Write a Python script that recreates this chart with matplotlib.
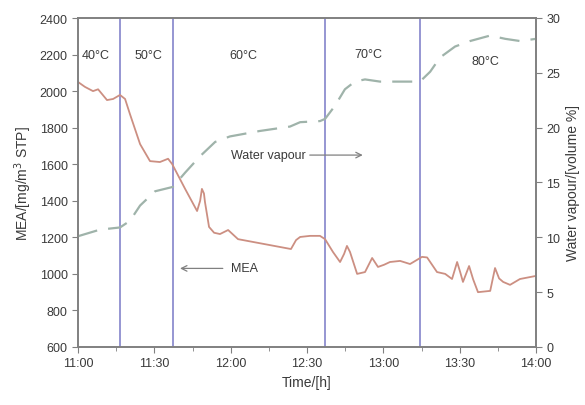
import numpy as np
import matplotlib
matplotlib.use('Agg')
import matplotlib.pyplot as plt
from matplotlib.ticker import MultipleLocator

plt.rcParams['font.family'] = ['Liberation Sans', 'DejaVu Sans']

# minutes after 11:00
mea_t = [0, 2.75, 5.9, 7.9, 11.4, 13.8, 16.5, 18.5, 20.4, 24.4, 28.3, 32.2, 35.4, 37.0,
         42.1, 46.8, 48.0, 48.7, 49.5, 49.9, 51.5, 53.5, 55.8, 59.0, 62.9, 83.7, 85.7,
         87.3, 91.2, 95.1, 97.1, 100.2, 103.0, 104.6, 105.7, 106.9, 109.7, 112.8, 115.6,
         117.9, 120.3, 122.6, 126.6, 130.5, 135.2, 137.2, 141.1, 144.3, 147.0, 149.0,
         150.2, 151.3, 153.7, 155.3, 157.2, 162.0, 163.9, 165.5, 167.1, 169.8, 173.7, 180]
mea = [2050, 2023, 2000, 2010, 1951, 1957, 1979, 1957, 1875, 1710, 1617, 1612, 1630, 1601,
       1465, 1344, 1400, 1465, 1440, 1393, 1257, 1225, 1218, 1240, 1190, 1136, 1185,
       1202, 1208, 1208, 1190, 1120, 1065, 1110, 1153, 1120, 1000, 1010, 1087,
       1038, 1050, 1065, 1071, 1054, 1093, 1090, 1010, 1000, 972, 1065,
       1010, 956, 1043, 970, 900, 907, 1032, 975, 956, 940, 972, 989]

vap_t = [0, 8.6, 16.5, 20.4, 24.4, 30.3, 37.3, 42.1, 48, 53.9, 59.7, 71.5, 83.3, 87.3,
         95.1, 97.1, 101, 104.9, 108.8, 112.8, 118.7, 126.6, 134.4, 138.4, 142.3, 148.2,
         154.1, 162, 167.9, 173.7, 180]
vapour = [10.1, 10.7, 10.9, 11.5, 12.9, 14.2, 14.6, 15.9, 17.4, 18.7, 19.2, 19.7, 20.1, 20.5,
          20.6, 20.8, 22.0, 23.5, 24.2, 24.4, 24.2, 24.2, 24.2, 25.1, 26.4, 27.4,
          27.9, 28.4, 28.1, 27.9, 28.1]

step_t = [16.5, 37.3, 97.1, 134.4]
temp_labels = ['40°C', '50°C', '60°C', '70°C', '80°C']
temp_pos = [(6.8, 2195), (27.5, 2195), (65, 2195), (114, 2205), (160, 2165)]
tick_labels = ['11:00', '11:30', '12:00', '12:30', '13:00', '13:30', '14:00']

fig = plt.figure(figsize=(5.85, 4.06), dpi=100)
ax = fig.add_axes([78/585, 1-348/406, 458/585, 329/406])
ax2 = ax.twinx()

grey = '#808080'
txt = '#3a3a3a'
for a in (ax, ax2):
    for s in a.spines.values():
        s.set_color(grey)
        s.set_linewidth(1.2)
    a.tick_params(colors=grey, labelcolor=txt, labelsize=9, direction='out', length=4)

for t in step_t:
    ax.axvline(t, color='#8e8ecf', lw=1.3)

ax.plot(mea_t, mea, color='#cc8f82', lw=1.3)
ax2.plot(vap_t, vapour, color='#9fb3aa', lw=1.6, dashes=(9, 5))

ax.set_xlim(0, 180)
ax.set_ylim(600, 2400)
ax2.set_ylim(0, 30)
ax.set_xticks(np.arange(0, 181, 30))
ax.set_xticklabels(tick_labels)
ax.xaxis.set_minor_locator(MultipleLocator(15))
ax.tick_params(axis='x', which='minor', direction='out', length=3, colors=grey)
ax.yaxis.set_major_locator(MultipleLocator(200))
ax2.yaxis.set_major_locator(MultipleLocator(5))

for lab, (x, y) in zip(temp_labels, temp_pos):
    ax.text(x, y, lab, fontsize=9, color=txt, ha='center', va='center')

ax.text(60, 1650, 'Water vapour', fontsize=9, color=txt, va='center')
ax.annotate('', xy=(113, 1650), xytext=(90, 1650),
            arrowprops=dict(arrowstyle='->', color=grey, lw=0.9))
ax.text(60, 1030, 'MEA', fontsize=9, color=txt, va='center')
ax.annotate('', xy=(39, 1030), xytext=(58, 1030),
            arrowprops=dict(arrowstyle='->', color=grey, lw=0.9))

ax.set_xlabel('Time/[h]', fontsize=10, color=txt)
ax.set_ylabel('MEA/[mg/m$^3$ STP]', fontsize=10, color=txt)
ax2.set_ylabel('Water vapour/[volume %]', fontsize=10, color=txt)

fig.savefig('out.png', dpi=100)
